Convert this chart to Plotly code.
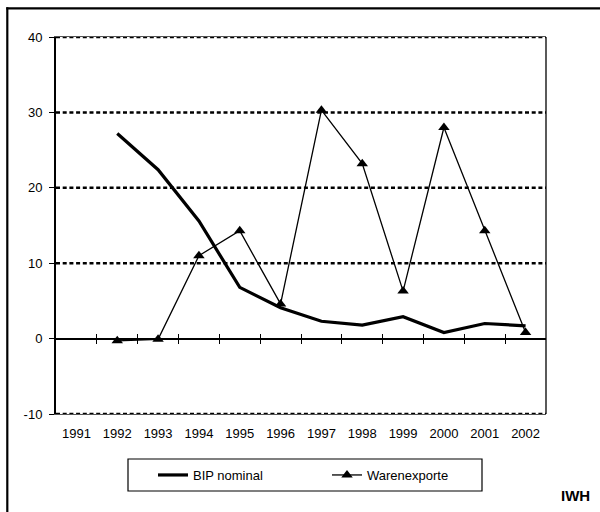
import plotly.graph_objects as go

years = [1991, 1992, 1993, 1994, 1995, 1996, 1997, 1998, 1999, 2000, 2001, 2002]
year_labels = [str(y) for y in years]
bip_years = [1992, 1993, 1994, 1995, 1996, 1997, 1998, 1999, 2000, 2001, 2002]
bip_nominal = [27.2, 22.4, 15.6, 6.8, 4.1, 2.3, 1.8, 2.9, 0.8, 2.0, 1.7]
exp_years = [1992, 1993, 1994, 1995, 1996, 1997, 1998, 1999, 2000, 2001, 2002]
warenexporte = [-0.3, -0.1, 11.0, 14.3, 4.6, 30.3, 23.2, 6.3, 28.0, 14.3, 0.8]
y_ticks = [-10, 0, 10, 20, 30, 40]
y_tick_labels = ["-10", "0", "10", "20", "30", "40"]
grid_levels = [-10, 10, 20, 30, 40]
boundaries = [1991.5 + i for i in range(11)]

FONT = "Liberation Sans, Arial, sans-serif"

W, H = 600, 512
ML, MR, MT, MB = 56, 54, 37, 98
pw, ph = W - ML - MR, H - MT - MB


def px_x(v):
    return (v - ML) / pw


def px_y(v):
    return (H - MB - v) / ph


fig = go.Figure()
fig.add_trace(go.Scatter(
    x=bip_years, y=bip_nominal, name="BIP nominal", mode="lines",
    line=dict(color="black", width=3.2), xaxis="x", yaxis="y",
))
fig.add_trace(go.Scatter(
    x=exp_years, y=warenexporte, name="Warenexporte", mode="lines+markers",
    line=dict(color="black", width=1.3),
    marker=dict(symbol="triangle-up", size=10, color="black"),
    xaxis="x2", yaxis="y",
))

zero_pos = 10 / 50

shapes = []
for g in grid_levels:
    shapes.append(dict(type="line", xref="paper", yref="y", x0=0, x1=1, y0=g, y1=g,
                       line=dict(color="black", width=2.5, dash="4px,2.7px"),
                       layer="below"))
shapes += [
    dict(type="line", xref="paper", yref="paper", x0=1, x1=1, y0=0, y1=1,
         line=dict(color="black", width=1.3)),
    # outer frame (top and left edges; the others lie outside the picture)
    dict(type="line", xref="paper", yref="paper",
         x0=px_x(6.3), x1=px_x(610), y0=px_y(8.3), y1=px_y(8.3),
         line=dict(color="black", width=2.2), layer="above"),
    dict(type="line", xref="paper", yref="paper",
         x0=px_x(7.3), x1=px_x(7.3), y0=px_y(7.3), y1=px_y(520),
         line=dict(color="black", width=2.2), layer="above"),
    # legend box
    dict(type="rect", xref="paper", yref="paper",
         x0=px_x(128), x1=px_x(482), y0=px_y(491), y1=px_y(459),
         line=dict(color="black", width=1.2), fillcolor="rgba(0,0,0,0)"),
]

fig.update_layout(
    width=W, height=H,
    margin=dict(l=ML, r=MR, t=MT, b=MB),
    paper_bgcolor="white", plot_bgcolor="white",
    font=dict(family=FONT, size=13, color="black"),
    showlegend=True,
    legend=dict(
        orientation="h", x=px_x(153), xanchor="left", y=px_y(475), yanchor="middle",
        borderwidth=0, bgcolor="rgba(0,0,0,0)",
        font=dict(family=FONT, size=13, color="black"),
        itemwidth=30, entrywidth=129,
    ),
    xaxis=dict(
        range=[1990.5, 2002.5], tickvals=years, ticktext=year_labels,
        showgrid=False, zeroline=False, showline=True, linecolor="#555",
        linewidth=1, mirror=True,
        ticks="outside", ticklen=7, tickcolor="rgba(0,0,0,0)",
        tickfont=dict(family=FONT, size=13),
    ),
    xaxis2=dict(
        overlaying="x", matches="x", anchor="free", position=zero_pos - 5 / ph,
        range=[1990.5, 2002.5], tickvals=boundaries, ticktext=[""] * len(boundaries),
        showgrid=False, zeroline=False, showline=False,
        ticks="inside", ticklen=10, tickwidth=1.3, tickcolor="black",
    ),
    yaxis=dict(
        range=[-10, 40], tickvals=y_ticks, ticktext=y_tick_labels,
        showgrid=False, zeroline=True, zerolinecolor="black", zerolinewidth=1.5,
        showline=True, linecolor="black", linewidth=2,
        ticks="outside", ticklen=5, tickwidth=1.3, tickcolor="black",
        ticklabelstandoff=4,
        tickfont=dict(family=FONT, size=13),
    ),
    shapes=shapes,
    annotations=[
        dict(text="<b>IWH</b>", xref="paper", yref="paper",
             x=px_x(559), y=px_y(495), xanchor="left", yanchor="middle",
             showarrow=False, font=dict(family=FONT, size=15, color="black")),
    ],
)

fig.write_html("out.html", config={"displayModeBar": False},
               post_script="document.body.style.margin='0';")
